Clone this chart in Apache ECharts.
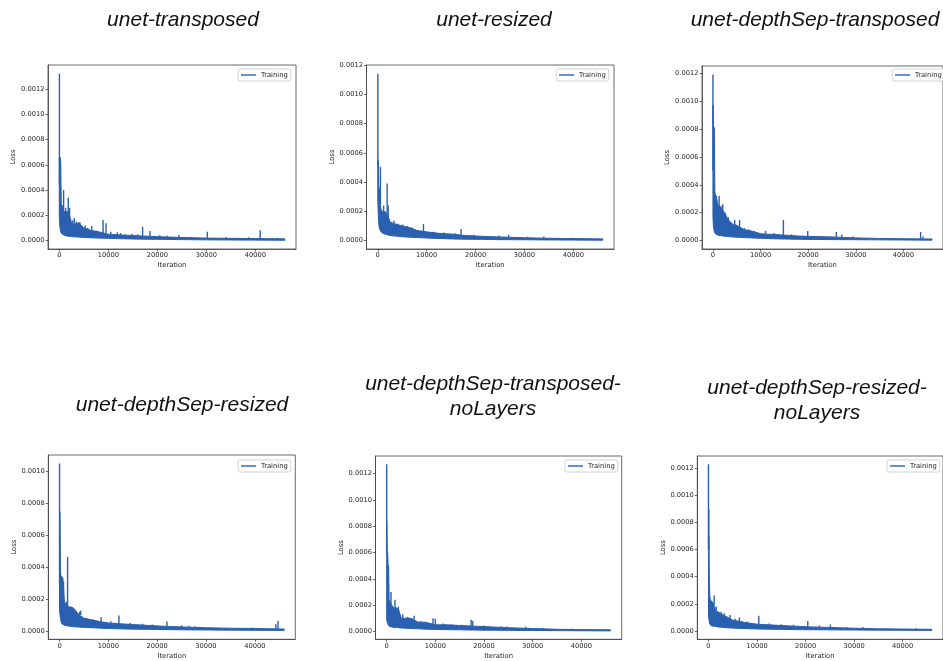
<!DOCTYPE html>
<html>
<head>
<meta charset="utf-8">
<title>UNet training loss</title>
<script src="https://cdn.jsdelivr.net/npm/echarts@6/dist/echarts.min.js"></script>
<style>
  html, body { margin: 0; padding: 0; background: #fff; }
  #chart { width: 943px; height: 661px; }
</style>
</head>
<body>
<div id="chart"></div>
<script>
const PANEL_TITLES = [
  "unet-transposed",
  "unet-resized",
  "unet-depthSep-transposed",
  "unet-depthSep-resized",
  "unet-depthSep-transposed-\nnoLayers",
  "unet-depthSep-resized-\nnoLayers",
];
const X_TICKS = [0, 10000, 20000, 30000, 40000];
const Y_TICKS = [0, 0.0002, 0.0004, 0.0006, 0.0008, 0.001, 0.0012];
const X_RANGE = [-2300, 48300];
const Y_MIN = [-0.0000662, -0.000057, -0.0000595, -0.0000526, -0.00006, -0.0000615];
const Y_MAX = [0.001389, 0.0012, 0.00125, 0.0011046, 0.001333, 0.00129];

// iterations where the dense noise band is sampled
const ENV_ITERS = [0, 100, 200, 300, 400, 500, 700, 1000, 1500, 2000, 2500, 3000, 4000,
  5000, 6500, 8000, 10000, 12500, 15000, 18000, 21000, 25000, 30000, 35000, 40000, 46000];

// lower / upper edge of the band, one array per run
const TRANSPOSED_LOW = [0.00019, 0.00012, 0.00009, 0.00007, 0.00006, 0.000055, 0.00005, 0.000042, 0.000037,
  0.000034, 0.000032, 0.00003, 0.000028, 0.000025, 0.000022, 0.00002, 0.000018, 0.000015, 0.000013,
  0.000011, 0.00001, 0.000008, 0.000006, 0.000005, 0.000004, 0.000003];
const TRANSPOSED_HIGH = [0.00066, 0.00066, 0.00066, 0.00062, 0.0003, 0.00026, 0.00024, 0.00023, 0.00023,
  0.00022, 0.00014, 0.00013, 0.00014, 0.0001, 0.00008, 0.00007, 0.00005, 0.000045, 0.00004,
  0.000035, 0.00003, 0.000025, 0.00002, 0.000018, 0.000016, 0.000014];

const RESIZED_LOW = [0.0003, 0.00018, 0.00012, 0.00009, 0.00008, 0.00007, 0.00006, 0.00005, 0.000045,
  0.00004, 0.000036, 0.000033, 0.00003, 0.000027, 0.000024, 0.000021, 0.000018, 0.000015, 0.000012,
  0.00001, 0.000009, 0.000007, 0.000006, 0.000005, 0.000004, 0.000003];
const RESIZED_HIGH = [0.00055, 0.00055, 0.00037, 0.00036, 0.00032, 0.00025, 0.00021, 0.0002, 0.0002,
  0.00018, 0.00013, 0.00012, 0.00011, 0.0001, 0.00009, 0.00007, 0.00006, 0.00005, 0.000045,
  0.000035, 0.00003, 0.000025, 0.00002, 0.000016, 0.000014, 0.000012];

const DS_TRANSPOSED_LOW = [0.00017, 0.0001, 0.00008, 0.00006, 0.000055, 0.00005, 0.000045, 0.00004, 0.000037,
  0.000034, 0.000032, 0.00003, 0.000027, 0.000025, 0.000022, 0.00002, 0.000017, 0.000014, 0.000012,
  0.00001, 0.000009, 0.000008, 0.000007, 0.000006, 0.000005, 0.000004];
const DS_TRANSPOSED_HIGH = [0.00097, 0.00081, 0.00081, 0.00081, 0.00035, 0.00033, 0.00032, 0.00026, 0.00024,
  0.00022, 0.0002, 0.00016, 0.00012, 0.00011, 0.00008, 0.00007, 0.00005, 0.000045, 0.00004,
  0.000033, 0.00003, 0.000027, 0.00002, 0.000016, 0.000014, 0.000012];

const DS_RESIZED_LOW = [0.00013, 0.0001, 0.00008, 0.00006, 0.00005, 0.000045, 0.00004, 0.000035, 0.000032,
  0.00003, 0.000028, 0.000026, 0.000024, 0.000022, 0.00002, 0.000018, 0.000015, 0.000013, 0.000011,
  0.00001, 0.000009, 0.000007, 0.000006, 0.000005, 0.000004, 0.000003];
const DS_RESIZED_HIGH = [0.00075, 0.00075, 0.00035, 0.00035, 0.00034, 0.00034, 0.00033, 0.00018, 0.00016,
  0.00015, 0.00015, 0.00014, 0.0001, 0.00008, 0.00007, 0.00006, 0.00005, 0.000045, 0.00004,
  0.000035, 0.00003, 0.000025, 0.00002, 0.000017, 0.000015, 0.000012];

const DS_TRANSPOSED_NL_LOW = [0.00009, 0.00007, 0.00006, 0.00005, 0.000045, 0.00004, 0.000037, 0.000034, 0.000031,
  0.00003, 0.000028, 0.000026, 0.000024, 0.000022, 0.00002, 0.000017, 0.000015, 0.000013, 0.000012,
  0.00001, 0.000009, 0.000008, 0.000007, 0.000006, 0.000005, 0.000004];
const DS_TRANSPOSED_NL_HIGH = [0.00084, 0.0006, 0.0006, 0.0005, 0.0005, 0.00024, 0.00022, 0.0002, 0.00018,
  0.00018, 0.00016, 0.0001, 0.0001, 0.0001, 0.00007, 0.00007, 0.00005, 0.00005, 0.000045,
  0.00004, 0.000035, 0.000028, 0.000022, 0.000016, 0.000014, 0.000012];

const DS_RESIZED_NL_LOW = [0.00012, 0.00008, 0.00006, 0.00005, 0.000045, 0.00004, 0.000037, 0.000035, 0.000033,
  0.00003, 0.000028, 0.000026, 0.000023, 0.000021, 0.000019, 0.000017, 0.000015, 0.000013, 0.000012,
  0.00001, 0.000009, 0.000008, 0.000007, 0.000006, 0.000005, 0.000004];
const DS_RESIZED_NL_HIGH = [0.0007, 0.0007, 0.00035, 0.00025, 0.00022, 0.00022, 0.00022, 0.0002, 0.00015,
  0.00014, 0.00013, 0.00012, 0.0001, 0.00008, 0.00007, 0.00006, 0.00005, 0.000045, 0.00004,
  0.000035, 0.00003, 0.000026, 0.00002, 0.000016, 0.000014, 0.000012];

// isolated spikes above the band: [iteration, foot, peak]
const TRANSPOSED_SPIKES = [
  [30, 0.00045, 0.00132], [600, 0.0002, 0.00028], [880, 0.00022, 0.0004], [1300, 0.0002, 0.00026],
  [1830, 0.00022, 0.00034], [2100, 0.0002, 0.00026], [2700, 0.00013, 0.00016], [3050, 0.00013, 0.000177],
  [3500, 0.00013, 0.00015], [4200, 0.00013, 0.000148], [5300, 0.0001, 0.00012], [5800, 0.00008, 0.0001],
  [6630, 0.00008, 0.000116], [7500, 0.00007, 0.00008], [8930, 0.00006, 0.000163], [9540, 0.00005, 0.000137],
  [10500, 0.00005, 0.00007], [11850, 0.000045, 0.000066], [12500, 0.000045, 0.00006], [13500, 0.00004, 0.00005],
  [14800, 0.00004, 0.000052], [16000, 0.00004, 0.00005], [17000, 0.000035, 0.00011], [18500, 0.000035, 0.000076],
  [20500, 0.00003, 0.000042], [22000, 0.00003, 0.00004], [24400, 0.000025, 0.000045], [27000, 0.00002, 0.00003],
  [30200, 0.00002, 0.000071], [34000, 0.000018, 0.000028], [38600, 0.000016, 0.000026], [41000, 0.000016, 0.000082],
  [44500, 0.000014, 0.000022],
];
const RESIZED_SPIKES = [
  [20, 0.0005, 0.00114], [550, 0.00025, 0.000505], [1200, 0.0002, 0.00024], [1920, 0.00018, 0.00039],
  [2130, 0.00015, 0.00024], [3300, 0.00012, 0.000137], [4100, 0.0001, 0.000115], [5100, 0.0001, 0.00011],
  [6050, 0.00009, 0.0001], [7000, 0.00008, 0.00009], [9350, 0.00006, 0.000114], [11500, 0.00005, 0.00006],
  [13500, 0.00005, 0.000055], [15800, 0.00004, 0.00005], [17040, 0.000035, 0.00008], [19660, 0.00003, 0.00004],
  [24800, 0.000025, 0.000035], [26740, 0.000025, 0.00004], [30650, 0.00002, 0.000027], [33950, 0.000016, 0.000028],
  [39930, 0.000014, 0.00002],
];
const DS_TRANSPOSED_SPIKES = [
  [0, 0.0005, 0.00119], [1300, 0.00024, 0.00032], [1700, 0.00022, 0.00025], [2050, 0.00021, 0.00026],
  [3200, 0.00014, 0.000167], [3900, 0.00012, 0.00013], [4560, 0.00011, 0.000148], [5590, 0.0001, 0.000148],
  [6600, 0.00008, 0.00009], [7500, 0.00007, 0.00008], [8650, 0.00006, 0.00007], [11040, 0.00005, 0.00007],
  [12800, 0.000045, 0.000055], [14790, 0.00004, 0.000148], [16490, 0.000035, 0.000045], [19900, 0.00003, 0.000069],
  [25900, 0.000027, 0.000062], [27050, 0.000025, 0.000045], [29440, 0.00002, 0.00003], [37950, 0.000015, 0.00002],
  [43600, 0.000013, 0.000062], [44100, 0.000013, 0.00003],
];
const DS_RESIZED_SPIKES = [
  [0, 0.0003, 0.001052], [820, 0.00018, 0.00031], [1370, 0.00016, 0.000185], [1650, 0.00015, 0.000464],
  [4120, 0.0001, 0.00012], [4330, 0.0001, 0.000126], [5500, 0.00007, 0.00008], [6800, 0.00007, 0.000075],
  [8520, 0.00006, 0.000086], [10500, 0.00005, 0.00006], [12170, 0.000045, 0.000097], [14500, 0.00004, 0.00005],
  [17000, 0.000035, 0.000045], [19000, 0.000035, 0.00004], [22000, 0.00003, 0.000059], [25000, 0.000025, 0.000035],
  [26500, 0.000025, 0.000032], [27700, 0.000023, 0.00003], [39500, 0.000015, 0.000022], [44300, 0.000013, 0.000042],
  [44750, 0.000013, 0.000063],
];
const DS_TRANSPOSED_NL_SPIKES = [
  [0, 0.0006, 0.00127], [880, 0.0002, 0.0003], [1700, 0.00018, 0.00024], [2400, 0.00014, 0.00019],
  [3300, 0.0001, 0.00013], [4300, 0.0001, 0.00011], [5650, 0.00009, 0.000119], [7000, 0.00007, 0.00008],
  [9520, 0.00005, 0.0001], [10000, 0.00005, 0.000096], [11560, 0.00005, 0.00006], [13500, 0.00005, 0.000055],
  [15500, 0.000045, 0.00005], [17350, 0.00004, 0.000088], [17700, 0.00004, 0.00008], [20000, 0.000035, 0.000045],
  [23470, 0.00003, 0.00004], [24800, 0.000028, 0.000038], [28570, 0.000022, 0.000035], [32000, 0.00002, 0.000028],
  [38000, 0.000015, 0.00002],
];
const DS_RESIZED_NL_SPIKES = [
  [0, 0.0006, 0.00123], [60, 0.0006, 0.0009], [1170, 0.00019, 0.000262], [1600, 0.00015, 0.00018],
  [2610, 0.00013, 0.00014], [3300, 0.00012, 0.00013], [4460, 0.00009, 0.000117], [5500, 0.00008, 0.00009],
  [6380, 0.00007, 0.0001], [8000, 0.00006, 0.00007], [10360, 0.00005, 0.000113], [12500, 0.000045, 0.000055],
  [15000, 0.00004, 0.00005], [17500, 0.000035, 0.000045], [20450, 0.00003, 0.000073], [22850, 0.00003, 0.00004],
  [25110, 0.000026, 0.000047], [28500, 0.000022, 0.00003], [31770, 0.00002, 0.00003], [37000, 0.000016, 0.00002],
  [42800, 0.000014, 0.00002],
];

const RUNS = [
  { low: TRANSPOSED_LOW, high: TRANSPOSED_HIGH, spikes: TRANSPOSED_SPIKES },
  { low: RESIZED_LOW, high: RESIZED_HIGH, spikes: RESIZED_SPIKES },
  { low: DS_TRANSPOSED_LOW, high: DS_TRANSPOSED_HIGH, spikes: DS_TRANSPOSED_SPIKES },
  { low: DS_RESIZED_LOW, high: DS_RESIZED_HIGH, spikes: DS_RESIZED_SPIKES },
  { low: DS_TRANSPOSED_NL_LOW, high: DS_TRANSPOSED_NL_HIGH, spikes: DS_TRANSPOSED_NL_SPIKES },
  { low: DS_RESIZED_NL_LOW, high: DS_RESIZED_NL_HIGH, spikes: DS_RESIZED_NL_SPIKES },
];

// page layout, in pixels
const PANELS = [
  { grid: [48, 65, 248, 184], legend: [238, 69], title: [183, 20] },
  { grid: [366.5, 65, 247.5, 184], legend: [556, 69], title: [494, 20] },
  { grid: [702, 66, 247, 183], legend: [892, 69], title: [815, 20] },
  { grid: [48.3, 455, 247, 184.3], legend: [238, 460], title: [182, 405] },
  { grid: [375.5, 456, 246.2, 183.3], legend: [565, 460], title: [493, 396.5] },
  { grid: [697.3, 456, 247.5, 183.3], legend: [887, 460], title: [817, 400.5] },
];

const LINE_COLOR = "#2a60b0";
const AXIS_COLOR = "#444";
const TEXT_COLOR = "#222";
const SMALL_FONT = "DejaVu Sans";

function renderBand(params, api) {
  if (params.dataIndexInside !== 0) {
    return null;
  }

  const upper = [];
  const lower = [];

  for (let j = 0; j < params.dataInsideLength; j++) {
    upper.push(api.coord([api.value(0, j), api.value(2, j)]));
    lower.push(api.coord([api.value(0, j), api.value(1, j)]));
  }

  return {
    type: "polygon",
    shape: { points: upper.concat(lower.reverse()) },
    style: { fill: LINE_COLOR, stroke: LINE_COLOR, lineWidth: 1 },
  };
}

function renderSpike(params, api) {
  const foot = api.coord([api.value(0), api.value(1)]);
  const peak = api.coord([api.value(0), api.value(2)]);

  return {
    type: "line",
    shape: { x1: foot[0], y1: foot[1], x2: peak[0], y2: peak[1] },
    style: { stroke: LINE_COLOR, lineWidth: 1.4 },
  };
}

function axisLineStyle() {
  return { color: AXIS_COLOR, width: 0.8 };
}

function smallText(size) {
  return { fontSize: size, color: TEXT_COLOR, fontFamily: SMALL_FONT };
}

function buildOption() {
  const grids = [];
  const xAxes = [];
  const yAxes = [];
  const legends = [];
  const series = [];
  const titles = [];

  PANELS.forEach((panel, i) => {
    const [left, top, width, height] = panel.grid;
    const yTicks = Y_TICKS.filter((v) => v <= Y_MAX[i] + 1e-9);
    const run = RUNS[i];

    grids.push({
      left, top, width, height,
      show: true,
      borderColor: AXIS_COLOR,
      borderWidth: 0.8,
      backgroundColor: "#fff",
    });

    xAxes.push({
      type: "value",
      gridIndex: i,
      min: X_RANGE[0],
      max: X_RANGE[1],
      name: "Iteration",
      nameLocation: "middle",
      nameGap: 13,
      nameTextStyle: smallText(6.8),
      axisLine: { show: true, onZero: false, lineStyle: axisLineStyle() },
      axisTick: { show: true, length: 2.5, customValues: X_TICKS, lineStyle: axisLineStyle() },
      axisLabel: { ...smallText(6.7), margin: 3, customValues: X_TICKS, formatter: (v) => String(v) },
      splitLine: { show: false },
    });

    yAxes.push({
      type: "value",
      gridIndex: i,
      min: Y_MIN[i],
      max: Y_MAX[i],
      name: "Loss",
      nameLocation: "middle",
      nameRotate: 90,
      nameGap: 30,
      nameTextStyle: smallText(6.8),
      axisLine: { show: true, onZero: false, lineStyle: axisLineStyle() },
      axisTick: { show: true, length: 2.5, customValues: yTicks, lineStyle: axisLineStyle() },
      axisLabel: { ...smallText(6.7), margin: 3.5, customValues: yTicks, formatter: (v) => v.toFixed(4) },
      splitLine: { show: false },
    });

    legends.push({
      data: ["Training"],
      left: panel.legend[0],
      top: panel.legend[1],
      padding: [2.5, 3],
      itemWidth: 15,
      itemHeight: 1.4,
      icon: "rect",
      borderColor: "#c8c8c8",
      borderWidth: 0.8,
      borderRadius: 2,
      backgroundColor: "rgba(255,255,255,0.85)",
      selectedMode: false,
      textStyle: smallText(6.8),
    });

    series.push({
      name: "Training",
      type: "custom",
      xAxisIndex: i,
      yAxisIndex: i,
      clip: true,
      silent: true,
      itemStyle: { color: LINE_COLOR },
      encode: { x: 0, y: [1, 2] },
      data: ENV_ITERS.map((iter, j) => [iter, run.low[j], run.high[j]]),
      renderItem: renderBand,
    });

    series.push({
      name: "Training",
      type: "custom",
      xAxisIndex: i,
      yAxisIndex: i,
      clip: true,
      silent: true,
      itemStyle: { color: LINE_COLOR },
      encode: { x: 0, y: [1, 2] },
      data: run.spikes,
      renderItem: renderSpike,
    });

    titles.push({
      type: "text",
      x: panel.title[0],
      y: panel.title[1],
      style: {
        text: PANEL_TITLES[i],
        font: 'italic 21px "Liberation Sans", Arial, sans-serif',
        fill: "#111",
        align: "center",
        verticalAlign: "middle",
        textAlign: "center",
        textVerticalAlign: "middle",
        lineHeight: 25,
      },
    });
  });

  return {
    animation: false,
    backgroundColor: "#fff",
    grid: grids,
    xAxis: xAxes,
    yAxis: yAxes,
    legend: legends,
    series,
    graphic: titles,
  };
}

const chart = echarts.init(document.getElementById("chart"));
chart.setOption(buildOption());
</script>
</body>
</html>
